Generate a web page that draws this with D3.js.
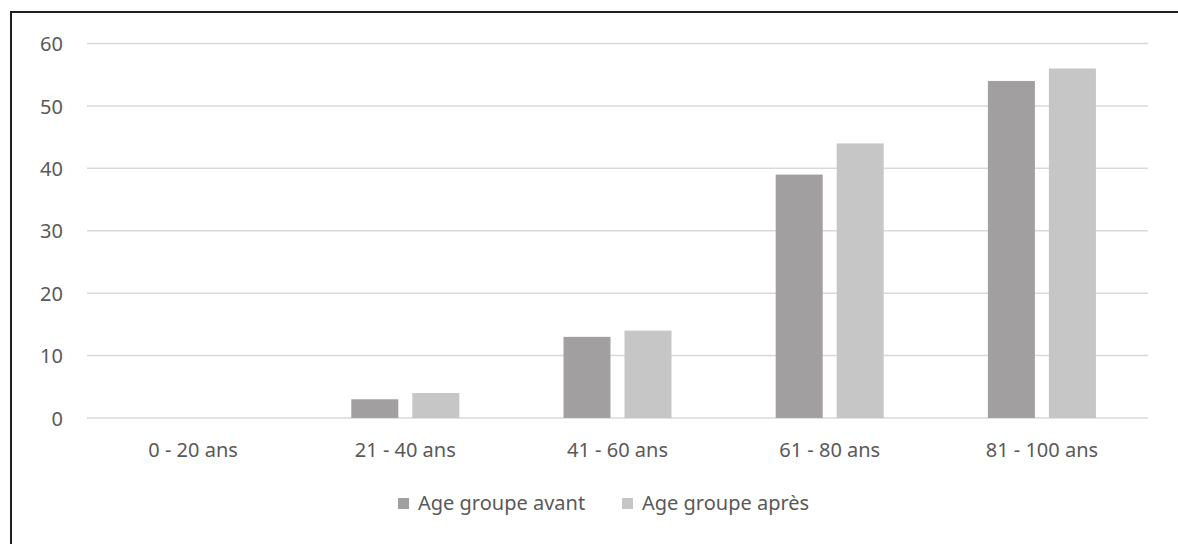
<!DOCTYPE html>
<html>
<head>
<meta charset="utf-8">
<script src="https://cdn.jsdelivr.net/npm/d3@7"></script>
<style>
  html, body { margin: 0; padding: 0; background: #fff; }
  svg { display: block; font-family: "Noto Sans", "Open Sans", sans-serif; }
</style>
</head>
<body>
<svg id="chart" width="1178" height="544"></svg>
<script>
// Age groups and counts before / after
const categories = ["0 - 20 ans", "21 - 40 ans", "41 - 60 ans", "61 - 80 ans", "81 - 100 ans"];
const seriesNames = ["Age groupe avant", "Age groupe après"];
const avant = [0, 3, 13, 39, 54];
const apres = [0, 4, 14, 44, 56];
const yTicks = [0, 10, 20, 30, 40, 50, 60];

const colors = ["#A19F9F", "#C6C6C6"];
const textColor = "#595959";
const fontSize = "20px";

const svg = d3.select("#chart");
const W = 1178, H = 544;

// frame
svg.append("line").attr("x1", 11).attr("x2", W).attr("y1", 12).attr("y2", 12)
  .attr("stroke", "#1e1e1e").attr("stroke-width", 2);
svg.append("line").attr("x1", 11).attr("x2", 11).attr("y1", 11).attr("y2", H)
  .attr("stroke", "#1e1e1e").attr("stroke-width", 2);

const plot = { left: 87, right: 1148, top: 43.5, bottom: 418 };

const x = d3.scaleBand().domain(categories).range([plot.left, plot.right]);
const y = d3.scaleLinear().domain([0, 60]).range([plot.bottom, plot.top]);
const groupWidth = 108;
const inner = d3.scaleBand().domain(seriesNames).range([0, groupWidth]).paddingInner(14 / 61);

// gridlines
svg.append("g").selectAll("line").data(yTicks).join("line")
  .attr("x1", plot.left).attr("x2", plot.right)
  .attr("y1", d => y(d)).attr("y2", d => y(d))
  .attr("stroke", "#D9D9D9").attr("stroke-width", 1.5);

// y axis labels
const yAxis = d3.axisLeft(y).tickValues(yTicks).tickSize(0).tickPadding(0);
const gy = svg.append("g").attr("transform", `translate(63,0)`).call(yAxis);
gy.select(".domain").remove();
gy.selectAll("text").attr("fill", textColor).attr("dy", "0.36em")
  .style("font-size", fontSize).style("font-family", "'Noto Sans', sans-serif");

// x axis labels
const xAxis = d3.axisBottom(x).tickSize(0).tickPadding(0);
const gx = svg.append("g").attr("transform", `translate(0,${plot.bottom})`).call(xAxis);
gx.select(".domain").remove();
gx.selectAll("text").attr("fill", textColor).attr("y", 32).attr("dy", "0.36em")
  .style("font-size", fontSize).style("font-family", "'Noto Sans', sans-serif");

// bars
const data = categories.map((c, i) => ({ c, vals: [avant[i], apres[i]] }));
const groups = svg.append("g").selectAll("g").data(data).join("g")
  .attr("transform", d => `translate(${x(d.c) + x.bandwidth() / 2 - groupWidth / 2},0)`);
groups.selectAll("rect").data(d => d.vals.map((v, k) => ({ v, k })))
  .join("rect")
  .attr("x", d => inner(seriesNames[d.k]))
  .attr("width", inner.bandwidth())
  .attr("y", d => y(d.v))
  .attr("height", d => y(0) - y(d.v))
  .attr("fill", d => colors[d.k]);

// legend
const legendX = [398, 622];
const lg = svg.append("g");
seriesNames.forEach((name, k) => {
  lg.append("rect").attr("x", legendX[k]).attr("y", 498).attr("width", 11).attr("height", 11)
    .attr("fill", colors[k]);
  lg.append("text").attr("x", legendX[k] + 20).attr("y", 503).attr("dy", "0.36em")
    .attr("fill", textColor).style("font-size", fontSize).text(name);
});
</script>
</body>
</html>
